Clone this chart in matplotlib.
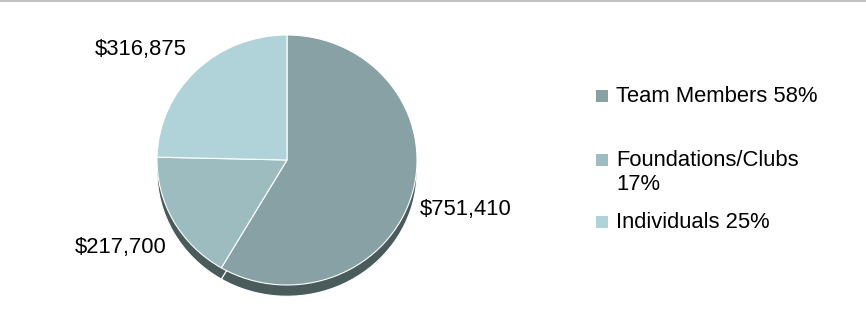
"""Donation sources pie chart with a simple extruded shadow and a side legend."""

import matplotlib

matplotlib.use("Agg")
import matplotlib.pyplot as plt
from matplotlib.lines import Line2D
from matplotlib.patches import Rectangle

CATEGORIES = ["Team Members", "Foundations/Clubs", "Individuals"]
AMOUNTS = [751410, 217700, 316875]
PERCENTS = ["58%", "17%", "25%"]
LEGEND_TEXT = ["Team Members 58%", "Foundations/Clubs\n17%", "Individuals 25%"]

COLORS = ["#87a1a4", "#9cbcc0", "#afd3d9"]
SHADOW = "#4a5b5c"

W, H = 866, 323
plt.rcParams["font.family"] = ["Liberation Sans", "DejaVu Sans"]
FS = 15.8

fig = plt.figure(figsize=(W / 100, H / 100), dpi=100)
fig.patch.set_facecolor("white")

# thin grey rule along the top edge
fig.add_artist(Line2D([0, 1], [1 - 0.8 / H] * 2, color="#b5b5b5", lw=1.2))

# pie axes: top face is a slightly squashed ellipse (rx 130 px, ry 125 px)
cx, cy, rx, ry = 287, 160, 130, 125
span = 1.5
ax = fig.add_axes([(cx - span * rx) / W, (H - cy - span * ry) / H,
                   2 * span * rx / W, 2 * span * ry / H])
wedge_kw = dict(edgecolor="white", linewidth=0.8)
# extrusion: same pie, darker, pushed down
ax.pie(AMOUNTS, center=(0, -0.09), startangle=90, counterclock=False,
       colors=[SHADOW] * len(AMOUNTS), wedgeprops=wedge_kw)
ax.pie(AMOUNTS, startangle=90, counterclock=False, colors=COLORS, wedgeprops=wedge_kw)
ax.set_aspect("auto")
ax.set_xlim(-span, span)
ax.set_ylim(-span, span)
ax.axis("off")


def fpos(x, y):
    return x / W, 1 - y / H


# value labels (pixel anchors, LibreOffice-style placement)
label_anchor = {
    "Team Members": (420, 209, "left"),
    "Foundations/Clubs": (167, 248, "right"),
    "Individuals": (187, 49, "right"),
}
for name, amount in zip(CATEGORIES, AMOUNTS):
    x, y, ha = label_anchor[name]
    fig.text(*fpos(x, y), f"${amount:,}", ha=ha, va="center", fontsize=FS, color="black")

# legend
legend_y = [96, 160, 222]
for color, text, y in zip(COLORS, LEGEND_TEXT, legend_y):
    fig.add_artist(Rectangle(fpos(596, y + 6), 12 / W, 12 / H, facecolor=color,
                             edgecolor="none", transform=fig.transFigure))
    fig.text(*fpos(616, y - 10), text, ha="left", va="top", fontsize=FS,
             color="black", linespacing=1.2)

fig.savefig("out.png", dpi=100, facecolor="white")
